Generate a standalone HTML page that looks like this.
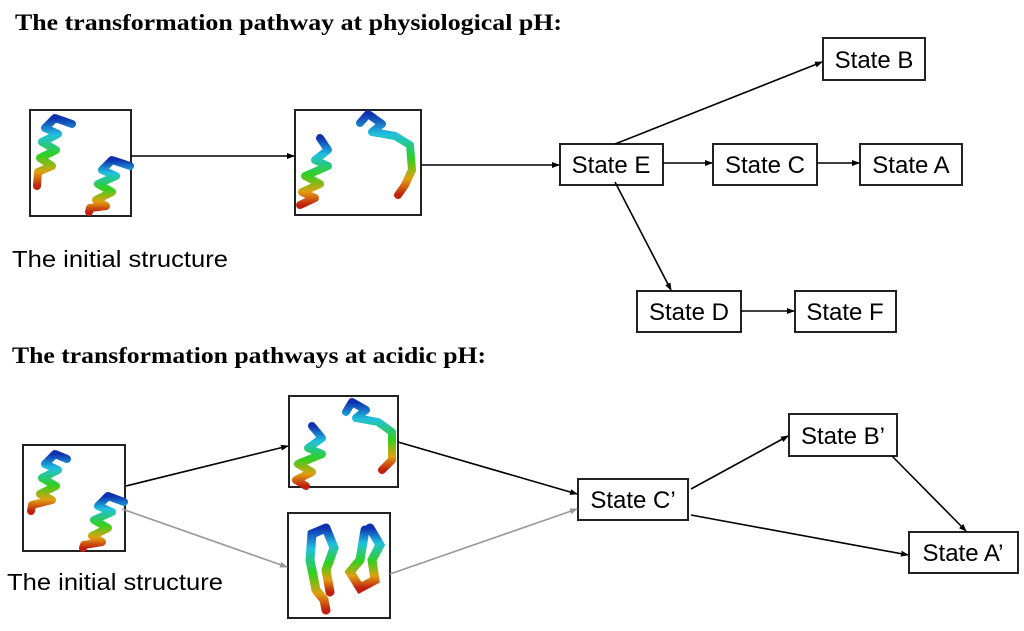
<!DOCTYPE html>
<html><head><meta charset="utf-8"><style>html,body{margin:0;padding:0;background:#fff}svg{display:block}</style></head>
<body>
<svg width="1024" height="631" viewBox="0 0 1024 631" xmlns="http://www.w3.org/2000/svg">
<defs>
<marker id="ab" markerWidth="8" markerHeight="8" refX="7" refY="4" orient="auto" markerUnits="userSpaceOnUse"><path d="M0,1 L8,4 L0,7 z" fill="#000"/></marker>
<marker id="ag" markerWidth="8" markerHeight="8" refX="7" refY="4" orient="auto" markerUnits="userSpaceOnUse"><path d="M0,1 L8,4 L0,7 z" fill="#999"/></marker>
<linearGradient id="g1" x1="0" y1="0" x2="0" y2="1"><stop offset="0" stop-color="#1030b0"/><stop offset="0.25" stop-color="#20c0e0"/><stop offset="0.55" stop-color="#30d020"/><stop offset="0.8" stop-color="#e0a010"/><stop offset="1" stop-color="#c02010"/></linearGradient>
</defs>
<g font-family="Liberation Serif, serif" font-weight="bold" font-size="23">
<text x="15" y="30" textLength="547" lengthAdjust="spacingAndGlyphs">The transformation pathway at physiological pH:</text>
<text x="12" y="363" textLength="474" lengthAdjust="spacingAndGlyphs">The transformation pathways at acidic pH:</text>
</g>
<g font-family="Liberation Sans, sans-serif" font-size="23">
<text x="12" y="267" textLength="216" lengthAdjust="spacingAndGlyphs">The initial structure</text>
<text x="7" y="590" textLength="216" lengthAdjust="spacingAndGlyphs">The initial structure</text>
</g>
<g fill="none" stroke="#222" stroke-width="2">
<rect x="30" y="110" width="101" height="106"/>
<rect x="295" y="110" width="126" height="105"/>
<rect x="23" y="445" width="102" height="106"/>
<rect x="289" y="396" width="109" height="91"/>
<rect x="288" y="513" width="102" height="105"/>
</g>
<g fill="none" stroke="url(#g1)" stroke-width="8" stroke-linecap="round" stroke-linejoin="round">
<path d="M72,124 L55,118 L45,128 L58,134 L42,142 L56,150 L40,158 L52,166 L38,172 L37,186"/>
<path d="M130,166 L112,160 L102,170 L116,176 L98,184 L112,192 L96,200 L106,206 L90,208 L89,212"/>
<path d="M320,138 L328,150 L315,160 L328,166 L305,176 L320,184 L302,192 L315,198 L300,205"/>
<path d="M360,123 L368,114 L382,124 L372,132 L395,136 L410,145 L412,170 L405,185 L398,195"/>
<path d="M67,459 L55,454 L45,464 L58,470 L42,478 L56,486 L40,494 L52,500 L32,505 L31,511"/>
<path d="M124,502 L108,496 L98,506 L112,512 L94,520 L108,528 L92,536 L102,542 L84,545 L83,548"/>
<path d="M312,426 L322,438 L308,448 L322,454 L298,464 L312,472 L296,480 L306,486"/>
<path d="M346,412 L352,402 L366,410 L356,418 L378,422 L392,432 L392,460 L382,470"/>
</g>
<g fill="none" stroke="url(#g1)" stroke-width="9" stroke-linecap="round">
<path d="M326,528 L312,534 L310,560 L316,590 L324,600 L326,610"/>
<path d="M326,528 L334,548 L326,570 L330,592"/>
<path d="M365,530 L360,560 L350,572 L360,588 L375,580 L372,560 L380,545 L370,528"/>
</g>
<g fill="#fff" stroke="#222" stroke-width="2">
<rect x="823" y="38" width="102" height="42"/>
<rect x="560" y="144" width="103" height="41"/>
<rect x="713" y="144" width="104" height="41"/>
<rect x="860" y="144" width="102" height="41"/>
<rect x="637" y="291" width="104" height="41"/>
<rect x="795" y="291" width="101" height="41"/>
<rect x="578" y="479" width="110" height="41"/>
<rect x="789" y="414" width="108" height="42"/>
<rect x="909" y="532" width="109" height="41"/>
</g>
<g font-family="Liberation Sans, sans-serif" font-size="24" text-anchor="middle">
<text x="874" y="68">State B</text>
<text x="611" y="173">State E</text>
<text x="765" y="173">State C</text>
<text x="911" y="173">State A</text>
<text x="689" y="320">State D</text>
<text x="845" y="320">State F</text>
<text x="633" y="508">State C’</text>
<text x="843" y="444">State B’</text>
<text x="963" y="561">State A’</text>
</g>
<g stroke="#000" stroke-width="1.6" fill="none" marker-end="url(#ab)">
<line x1="131" y1="156" x2="294" y2="156"/>
<line x1="421" y1="165" x2="559" y2="165"/>
<line x1="615" y1="144" x2="822" y2="62"/>
<line x1="663" y1="163" x2="712" y2="163"/>
<line x1="817" y1="163" x2="859" y2="163"/>
<line x1="615" y1="182" x2="671" y2="290"/>
<line x1="741" y1="311" x2="794" y2="311"/>
<line x1="126" y1="486" x2="288" y2="446"/>
<line x1="398" y1="442" x2="577" y2="494"/>
<line x1="691" y1="489" x2="788" y2="436"/>
<line x1="892" y1="456" x2="966" y2="531"/>
<line x1="691" y1="515" x2="908" y2="555"/>
</g>
<g stroke="#999" stroke-width="1.6" fill="none" marker-end="url(#ag)">
<line x1="122" y1="509" x2="287" y2="567"/>
<line x1="390" y1="574" x2="577" y2="509"/>
</g>
</svg>
</body></html>
